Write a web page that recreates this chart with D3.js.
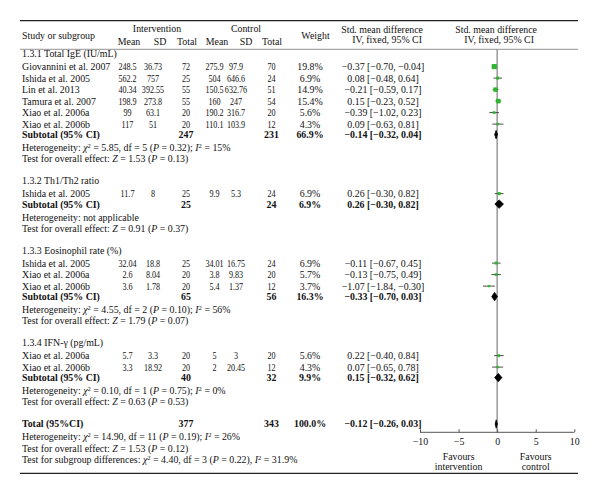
<!DOCTYPE html>
<html>
<head>
<meta charset="utf-8">
<script src="https://cdn.jsdelivr.net/npm/d3@7"></script>
<style>
  html, body { margin: 0; padding: 0; background: #fff; }
  svg { display: block; }
  text { font-family: "Liberation Serif", "Times New Roman", serif; font-size: 9.9px; fill: #111; }
</style>
</head>
<body>
<script>
// ---------------- DATA ----------------
const groupLabels = ["1.3.1 Total IgE (IU/mL)", "1.3.2 Th1/Th2 ratio", "1.3.3 Eosinophil rate (%)", "1.3.4 IFN-γ (pg/mL)"];

const studyGroup = [0, 0, 0, 0, 0, 0, 1, 2, 2, 2, 3, 3];
const studyNames = ["Giovannini et al. 2007", "Ishida et al. 2005", "Lin et al. 2013", "Tamura et al. 2007", "Xiao et al. 2006a", "Xiao et al. 2006b",
  "Ishida et al. 2005",
  "Ishida et al. 2005", "Xiao et al. 2006a", "Xiao et al. 2006b",
  "Xiao et al. 2006a", "Xiao et al. 2006b"];
const intMean = ["248.5", "562.2", "40.34", "198.9", "99", "117", "11.7", "32.04", "2.6", "3.6", "5.7", "3.3"];
const intSD = ["36.73", "757", "392.55", "273.8", "63.1", "51", "8", "18.8", "8.04", "1.78", "3.3", "18.92"];
const intN = [72, 25, 55, 55, 20, 20, 25, 25, 20, 20, 20, 20];
const ctlMean = ["275.9", "504", "150.5", "160", "190.2", "110.1", "9.9", "34.01", "3.8", "5.4", "5", "2"];
const ctlSD = ["97.9", "646.6", "632.76", "247", "316.7", "103.9", "5.3", "16.75", "9.83", "1.37", "3", "20.45"];
const ctlN = [70, 24, 51, 54, 20, 12, 24, 24, 20, 12, 20, 12];
const studyWeight = [19.8, 6.9, 14.9, 15.4, 5.6, 4.3, 6.9, 6.9, 5.7, 3.7, 5.6, 4.3];
const studySMD = [-0.37, 0.08, -0.21, 0.15, -0.39, 0.09, 0.26, -0.11, -0.13, -1.07, 0.22, 0.07];
const studyLo = [-0.70, -0.48, -0.59, -0.23, -1.02, -0.63, -0.30, -0.67, -0.75, -1.84, -0.40, -0.65];
const studyHi = [-0.04, 0.64, 0.17, 0.52, 0.23, 0.81, 0.82, 0.45, 0.49, -0.30, 0.84, 0.78];

const subIntN = [247, 25, 65, 40];
const subCtlN = [231, 24, 56, 32];
const subWeight = [66.9, 6.9, 16.3, 9.9];
const subSMD = [-0.14, 0.26, -0.33, 0.15];
const subLo = [-0.32, -0.30, -0.70, -0.32];
const subHi = [0.04, 0.82, 0.03, 0.62];
// heterogeneity: chi2, df, P, I2  (null = not applicable)
const hetChi = ["5.85", null, "4.55", "0.10"];
const hetDf = ["5", null, "2", "1"];
const hetP = ["0.32", null, "0.10", "0.75"];
const hetI2 = ["15%", null, "56%", "0%"];
const testZ = ["1.53", "0.91", "1.79", "0.63"];
const testP = ["0.13", "0.37", "0.07", "0.53"];

const totalIntN = 377, totalCtlN = 343, totalWeight = 100.0;
const totalSMD = -0.12, totalLo = -0.26, totalHi = 0.03;
const totalHet = {chi: "14.90", df: "11", p: "0.19", i2: "26%"};
const totalTest = {z: "1.53", p: "0.12"};
const subgroupDiff = {chi: "4.40", df: "3", p: "0.22", i2: "31.9%"};

const axisTicks = [-10, -5, 0, 5, 10];

// ---------------- LAYOUT ----------------
const W = 600, H = 494;
const svg = d3.select("body").append("svg").attr("width", W).attr("height", H);
svg.append("rect").attr("width", W).attr("height", H).attr("fill", "#fff");

const x = d3.scaleLinear().domain([-10, 10]).range([420, 574.3]);

const col = {name: 22, iMean: 127.5, iSD: 153, iN: 186, cMean: 214.5, cSD: 236, cN: 271.5, weight: 310, ci: 383};

const fmt = v => (v < 0 ? "\u2212" : "") + Math.abs(v).toFixed(2);
const ciText = (m, l, h) => `${fmt(m)} [${fmt(l)}, ${fmt(h)}]`;

// build rows
const rows = [];
let y = 54;
groupLabels.forEach((g, gi) => {
  rows.push({type: "label", y, text: g});
  y += 12.6;
  const idx = d3.range(studyNames.length).filter(i => studyGroup[i] === gi);
  idx.forEach(i => {
    rows.push({type: "study", y, i});
    y += 11.5;
  });
  y -= 1;
  rows.push({type: "sub", y, gi});
  y += 13;
  rows.push({type: "het", y, gi});
  y += 11.2;
  rows.push({type: "test", y, gi});
  y += 22.2;
});
rows.push({type: "total", y});
y += 12.6;
rows.push({type: "totalHet", y});
y += 11.7;
rows.push({type: "totalTest", y});
y += 11.3;
rows.push({type: "subDiff", y});

// ---------------- LINES ----------------
svg.append("line").attr("x1", 20).attr("x2", 578).attr("y1", 20.7).attr("y2", 20.7).attr("stroke", "#222").attr("stroke-width", 1.3);
svg.append("line").attr("x1", 20).attr("x2", 578).attr("y1", 49.3).attr("y2", 49.3).attr("stroke", "#777").attr("stroke-width", 0.8);
svg.append("line").attr("x1", 20).attr("x2", 578).attr("y1", 473.3).attr("y2", 473.3).attr("stroke", "#222").attr("stroke-width", 1.3);

// ---------------- HELPERS ----------------
function txt(xp, yp, s, anchor = "start", weight = "normal") {
  return svg.append("text").attr("x", xp).attr("y", yp).attr("dy", "0.35em")
    .attr("text-anchor", anchor).attr("font-weight", weight).text(s);
}
// narrow numerals (horizontally condensed) for the table's data columns
function num(xp, yp, s) {
  svg.append("g").attr("transform", `translate(${xp},${yp}) scale(0.82,1)`)
    .append("text").attr("x", 0).attr("y", 0).attr("dy", "0.35em").attr("text-anchor", "middle").text(s);
}

// ---------------- HEADER ----------------
txt(col.name, 35.5, "Study or subgroup");
txt(157, 29, "Intervention", "middle");
txt(246, 29, "Control", "middle");
txt(129, 42, "Mean", "middle");
txt(160, 42, "SD", "middle");
txt(187, 42, "Total", "middle");
txt(217, 42, "Mean", "middle");
txt(246, 42, "SD", "middle");
txt(272, 42, "Total", "middle");
txt(315.5, 35.5, "Weight", "middle");
txt(423, 29.7, "Std. mean difference", "end");
txt(422, 39.3, "IV, fixed, 95% CI", "end");
txt(537, 29.7, "Std. mean difference", "end");
txt(534, 39.3, "IV, fixed, 95% CI", "end");

// ---------------- ZERO LINE & AXIS ----------------
const axisY = 432.3;
svg.append("line").attr("x1", x(0)).attr("x2", x(0)).attr("y1", 49.3).attr("y2", axisY)
  .attr("stroke", "#8a8a8a").attr("stroke-width", 1.3);

const axis = d3.axisTop(x).tickValues(axisTicks).tickSize(3).tickFormat(d => d < 0 ? "\u2212" + Math.abs(d) : d);
const ag = svg.append("g").attr("transform", `translate(0,${axisY})`).call(axis);
ag.select(".domain").attr("stroke", "#555").attr("stroke-width", 1).attr("d", `M${x(-10)},0H${x(10)}`);
ag.selectAll(".tick line").attr("stroke", "#555");
ag.selectAll(".tick text").attr("y", 9.5).attr("dy", "0.35em").attr("font-family", "Liberation Serif")
  .attr("font-size", "9.9px").attr("fill", "#111");

txt(x(-5), 457, "Favours", "middle");
txt(x(-5), 467, "intervention", "middle");
txt(x(5), 457, "Favours", "middle");
txt(x(5), 467, "control", "middle");

// ---------------- ROWS ----------------
function statLine(yp, parts) {
  const t = svg.append("text").attr("x", col.name).attr("y", yp).attr("dy", "0.35em");
  parts.forEach(p => {
    const ts = t.append("tspan").text(p.t);
    if (p.i) ts.attr("font-style", "italic");
    if (p.sup) ts.attr("baseline-shift", "super").attr("font-size", "6.6px");
  });
}
function hetParts(chi, df, p, i2, sep) {
  return [{t: "Heterogeneity: "}, {t: "χ", i: true}, {t: "2", sup: true}, {t: ` = ${chi}, df = ${df} (`},
    {t: "P", i: true}, {t: ` = ${p})${sep} `}, {t: "I", i: true}, {t: "2", sup: true}, {t: ` = ${i2}`}];
}
function diamond(yp, m, l, h, hh) {
  svg.append("path")
    .attr("d", `M${x(l)},${yp}L${x(m)},${yp - hh}L${x(h)},${yp}L${x(m)},${yp + hh}Z`)
    .attr("fill", "#000").attr("stroke", "#000").attr("stroke-width", 0.8);
}

rows.forEach(r => {
  if (r.type === "label") {
    txt(col.name, r.y, r.text);
  } else if (r.type === "study") {
    const i = r.i;
    txt(col.name, r.y, studyNames[i]);
    num(col.iMean, r.y, intMean[i]);
    num(col.iSD, r.y, intSD[i]);
    num(col.iN, r.y, intN[i]);
    num(col.cMean, r.y, ctlMean[i]);
    num(col.cSD, r.y, ctlSD[i]);
    num(col.cN, r.y, ctlN[i]);
    txt(col.weight, r.y, studyWeight[i].toFixed(1) + "%", "middle");
    txt(col.ci, r.y, ciText(studySMD[i], studyLo[i], studyHi[i]), "middle");
    svg.append("line").attr("x1", x(studyLo[i])).attr("x2", x(studyHi[i])).attr("y1", r.y).attr("y2", r.y)
      .attr("stroke", "#4a4a4a").attr("stroke-width", 1);
    const s = Math.sqrt(studyWeight[i]) * 1.15;
    svg.append("rect").attr("x", x(studySMD[i]) - s / 2).attr("y", r.y - s / 2).attr("width", s).attr("height", s)
      .attr("fill", "#2fb52f");
  } else if (r.type === "sub") {
    const g = r.gi;
    txt(col.name, r.y, "Subtotal (95% CI)", "start", "bold");
    txt(col.iN, r.y, subIntN[g], "middle", "bold");
    txt(col.cN, r.y, subCtlN[g], "middle", "bold");
    txt(col.weight, r.y, subWeight[g].toFixed(1) + "%", "middle", "bold");
    txt(col.ci, r.y, ciText(subSMD[g], subLo[g], subHi[g]), "middle", "bold");
    diamond(r.y, subSMD[g], subLo[g], subHi[g], 4.2);
  } else if (r.type === "het") {
    const g = r.gi;
    if (hetChi[g] === null) txt(col.name, r.y, "Heterogeneity: not applicable");
    else statLine(r.y, hetParts(hetChi[g], hetDf[g], hetP[g], hetI2[g], ";"));
  } else if (r.type === "test") {
    const g = r.gi;
    statLine(r.y, [{t: "Test for overall effect: "}, {t: "Z", i: true}, {t: ` = ${testZ[g]} (`}, {t: "P", i: true}, {t: ` = ${testP[g]})`}]);
  } else if (r.type === "total") {
    txt(col.name, r.y, "Total (95%CI)", "start", "bold");
    txt(col.iN, r.y, totalIntN, "middle", "bold");
    txt(col.cN, r.y, totalCtlN, "middle", "bold");
    txt(col.weight, r.y, totalWeight.toFixed(1) + "%", "middle", "bold");
    txt(col.ci, r.y, ciText(totalSMD, totalLo, totalHi), "middle", "bold");
    diamond(r.y, totalSMD, totalLo, totalHi, 4.2);
  } else if (r.type === "totalHet") {
    statLine(r.y, hetParts(totalHet.chi, totalHet.df, totalHet.p, totalHet.i2, ";"));
  } else if (r.type === "totalTest") {
    statLine(r.y, [{t: "Test for overall effect: "}, {t: "Z", i: true}, {t: ` = ${totalTest.z} (`}, {t: "P", i: true}, {t: ` = ${totalTest.p})`}]);
  } else if (r.type === "subDiff") {
    statLine(r.y, [{t: "Test for subgroup differences: "}, {t: "χ", i: true}, {t: "2", sup: true},
      {t: ` = ${subgroupDiff.chi}, df = ${subgroupDiff.df} (`}, {t: "P", i: true}, {t: ` = ${subgroupDiff.p}), `},
      {t: "I", i: true}, {t: "2", sup: true}, {t: ` = ${subgroupDiff.i2}`}]);
  }
});
</script>
</body>
</html>
